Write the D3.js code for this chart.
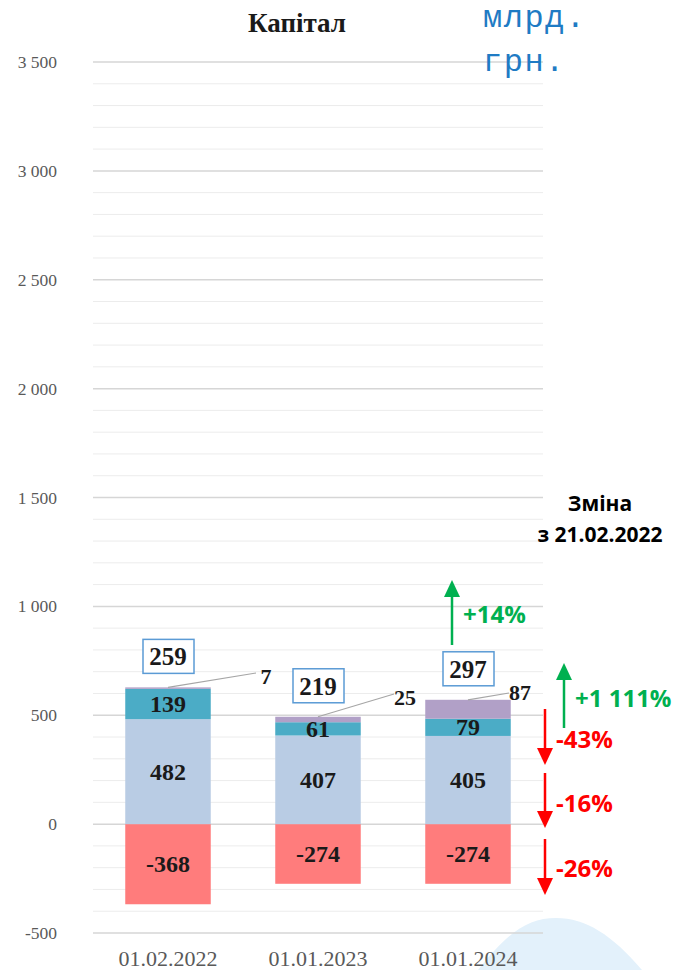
<!DOCTYPE html>
<html lang="uk">
<head>
<meta charset="UTF-8">
<title>Капітал</title>
<script src="https://d3js.org/d3.v7.min.js"></script>
<style>
  body { margin: 0; background: #fff; }
</style>
</head>
<body>
<script>
// data
const dates = ['01.02.2022', '01.01.2023', '01.01.2024'];
const negPart = [-368, -274, -274];
const lightPart = [482, 407, 405];
const tealPart = [139, 61, 79];
const purplePart = [7, 25, 87];
const totals = [259, 219, 297];
const yTicks = [-500, 0, 500, 1000, 1500, 2000, 2500, 3000, 3500];
const changeLabels = ['+14%', '+1 111%', '-43%', '-16%', '-26%'];

const width = 678, height = 970;
const svg = d3.select('body').append('svg').attr('width', width).attr('height', height);

// watermark blob bottom right
svg.append('path')
  .attr('d', 'M478,970 C508,932 528,918 556,918 C586,918 612,935 642,970 Z')
  .style('fill', '#e3f1fb');

const x = d3.scaleBand().domain(dates).range([93, 543]).paddingInner(0.43).paddingOuter(0.215);
const y = d3.scaleLinear().domain([-500, 3500]).range([933, 62]);

// gridlines, minor every 100
svg.append('g').selectAll('line')
  .data(d3.range(-500, 3501, 100))
  .join('line')
    .attr('x1', 93).attr('x2', 543)
    .attr('y1', d => y(d)).attr('y2', d => y(d))
    .style('stroke', d => d % 500 === 0 ? '#d6d6d6' : '#ececec')
    .style('stroke-width', d => d % 500 === 0 ? 1.5 : 1);

// y axis labels (space as thousands separator, plain hyphen)
const fmt = v => d3.format(',')(v).replace(/,/g, ' ').replace('−', '-');
svg.append('g').selectAll('text')
  .data(yTicks)
  .join('text')
    .attr('x', 57).attr('y', d => y(d) + 6)
    .attr('text-anchor', 'end')
    .style('font-family', 'Liberation Serif, serif')
    .style('font-size', '17.5px')
    .style('fill', '#595959')
    .text(fmt);

// x axis labels
svg.append('g').selectAll('text')
  .data(dates)
  .join('text')
    .attr('x', d => x(d) + x.bandwidth() / 2).attr('y', 966)
    .attr('text-anchor', 'middle')
    .style('font-family', 'Liberation Serif, serif')
    .style('font-size', '22px')
    .style('fill', '#595959')
    .text(d => d);

// stacked segments
const segs = [];
dates.forEach((d, i) => {
  segs.push({ date: d, y0: negPart[i], y1: 0, v: negPart[i], color: '#ff7c7c', label: true });
  let base = 0;
  [[lightPart[i], '#b9cce4', true], [tealPart[i], '#4bacc6', true], [purplePart[i], '#b1a0c7', false]].forEach(p => {
    segs.push({ date: d, y0: base, y1: base + p[0], v: p[0], color: p[1], label: p[2] });
    base += p[0];
  });
});

svg.append('g').selectAll('rect')
  .data(segs)
  .join('rect')
    .attr('x', d => x(d.date))
    .attr('width', x.bandwidth())
    .attr('y', d => y(Math.max(d.y0, d.y1)))
    .attr('height', d => Math.abs(y(d.y0) - y(d.y1)))
    .style('fill', d => d.color);

svg.append('g').selectAll('text')
  .data(segs.filter(d => d.label))
  .join('text')
    .attr('x', d => x(d.date) + x.bandwidth() / 2)
    .attr('y', d => y((d.y0 + d.y1) / 2) + 8)
    .attr('text-anchor', 'middle')
    .style('font-family', 'Liberation Serif, serif')
    .style('font-weight', 'bold')
    .style('font-size', '24px')
    .style('fill', '#1a1a1a')
    .text(d => d.v);

// purple leader labels
const tops = dates.map((d, i) => lightPart[i] + tealPart[i] + purplePart[i]);
const leaderEnd = [[256, 673], [394, 694], [509, 693]];
const leaderTxt = [[266, 684], [405, 705], [520, 700]];
svg.append('g').selectAll('line')
  .data(dates)
  .join('line')
    .attr('x1', d => x(d) + x.bandwidth() / 2)
    .attr('y1', (d, i) => y(tops[i]))
    .attr('x2', (d, i) => leaderEnd[i][0])
    .attr('y2', (d, i) => leaderEnd[i][1])
    .style('stroke', '#a6a6a6')
    .style('stroke-width', 1.2);
svg.append('g').selectAll('text')
  .data(purplePart)
  .join('text')
    .attr('x', (d, i) => leaderTxt[i][0])
    .attr('y', (d, i) => leaderTxt[i][1])
    .attr('text-anchor', 'middle')
    .style('font-family', 'Liberation Serif, serif')
    .style('font-weight', 'bold')
    .style('font-size', '22px')
    .style('fill', '#1a1a1a')
    .text(d => d);

// boxed totals
const boxes = svg.append('g').selectAll('g')
  .data(dates)
  .join('g')
    .attr('transform', (d, i) => `translate(${x(d) + x.bandwidth() / 2},${y(tops[i]) - 31})`);
boxes.append('rect')
  .attr('x', -25).attr('y', -17).attr('width', 51).attr('height', 34)
  .style('fill', '#fff')
  .style('stroke', '#5b9bd5')
  .style('stroke-width', 1.5);
boxes.append('text')
  .attr('y', 9)
  .attr('text-anchor', 'middle')
  .style('font-family', 'Liberation Serif, serif')
  .style('font-weight', 'bold')
  .style('font-size', '25px')
  .style('fill', '#1a1a1a')
  .text((d, i) => totals[i]);

// title and units
svg.append('text')
  .attr('x', 297).attr('y', 32)
  .attr('text-anchor', 'middle')
  .style('font-family', 'Liberation Serif, serif')
  .style('font-weight', 'bold')
  .style('font-size', '27px')
  .style('fill', '#1a1a1a')
  .text('Капітал');

const units = svg.append('text')
  .style('font-family', 'Liberation Mono, monospace')
  .style('font-size', '32px')
  .style('letter-spacing', '1.5px')
  .style('fill', '#1f7bc4');
units.append('tspan').attr('x', 483).attr('y', 27).text('млрд.');
units.append('tspan').attr('x', 483).attr('y', 71).text('грн.');

const chg = svg.append('text')
  .attr('text-anchor', 'middle')
  .style('font-family', 'Open Sans, sans-serif')
  .style('font-weight', 'bold')
  .style('font-size', '21px')
  .style('fill', '#000');
chg.append('tspan').attr('x', 600).attr('y', 511).text('Зміна');
chg.append('tspan').attr('x', 600).attr('y', 542).text('з 21.02.2022');

// change arrows
const arrows = [
  { x: 452, from: 645, to: 580, color: '#00b050', lx: 463, ly: 623 },
  { x: 564, from: 728, to: 663, color: '#00b050', lx: 575, ly: 707 },
  { x: 545, from: 709, to: 765, color: '#ff0000', lx: 556, ly: 748 },
  { x: 545, from: 773, to: 828, color: '#ff0000', lx: 556, ly: 812 },
  { x: 545, from: 839, to: 895, color: '#ff0000', lx: 556, ly: 877 }
];
const ag = svg.append('g').selectAll('g').data(arrows).join('g');
ag.append('line')
  .attr('x1', d => d.x).attr('x2', d => d.x)
  .attr('y1', d => d.from)
  .attr('y2', d => d.to > d.from ? d.to - 14 : d.to + 14)
  .style('stroke', d => d.color)
  .style('stroke-width', 2.5);
ag.append('path')
  .attr('d', d => {
    const s = d.to > d.from ? -1 : 1;
    return `M${d.x},${d.to} L${d.x - 8},${d.to + s * 17} L${d.x + 8},${d.to + s * 17} Z`;
  })
  .style('fill', d => d.color);
ag.append('text')
  .attr('x', d => d.lx).attr('y', d => d.ly)
  .style('font-family', 'Open Sans, sans-serif')
  .style('font-weight', 'bold')
  .style('font-size', '24px')
  .style('fill', d => d.color)
  .text((d, i) => changeLabels[i]);
</script>
</body>
</html>
